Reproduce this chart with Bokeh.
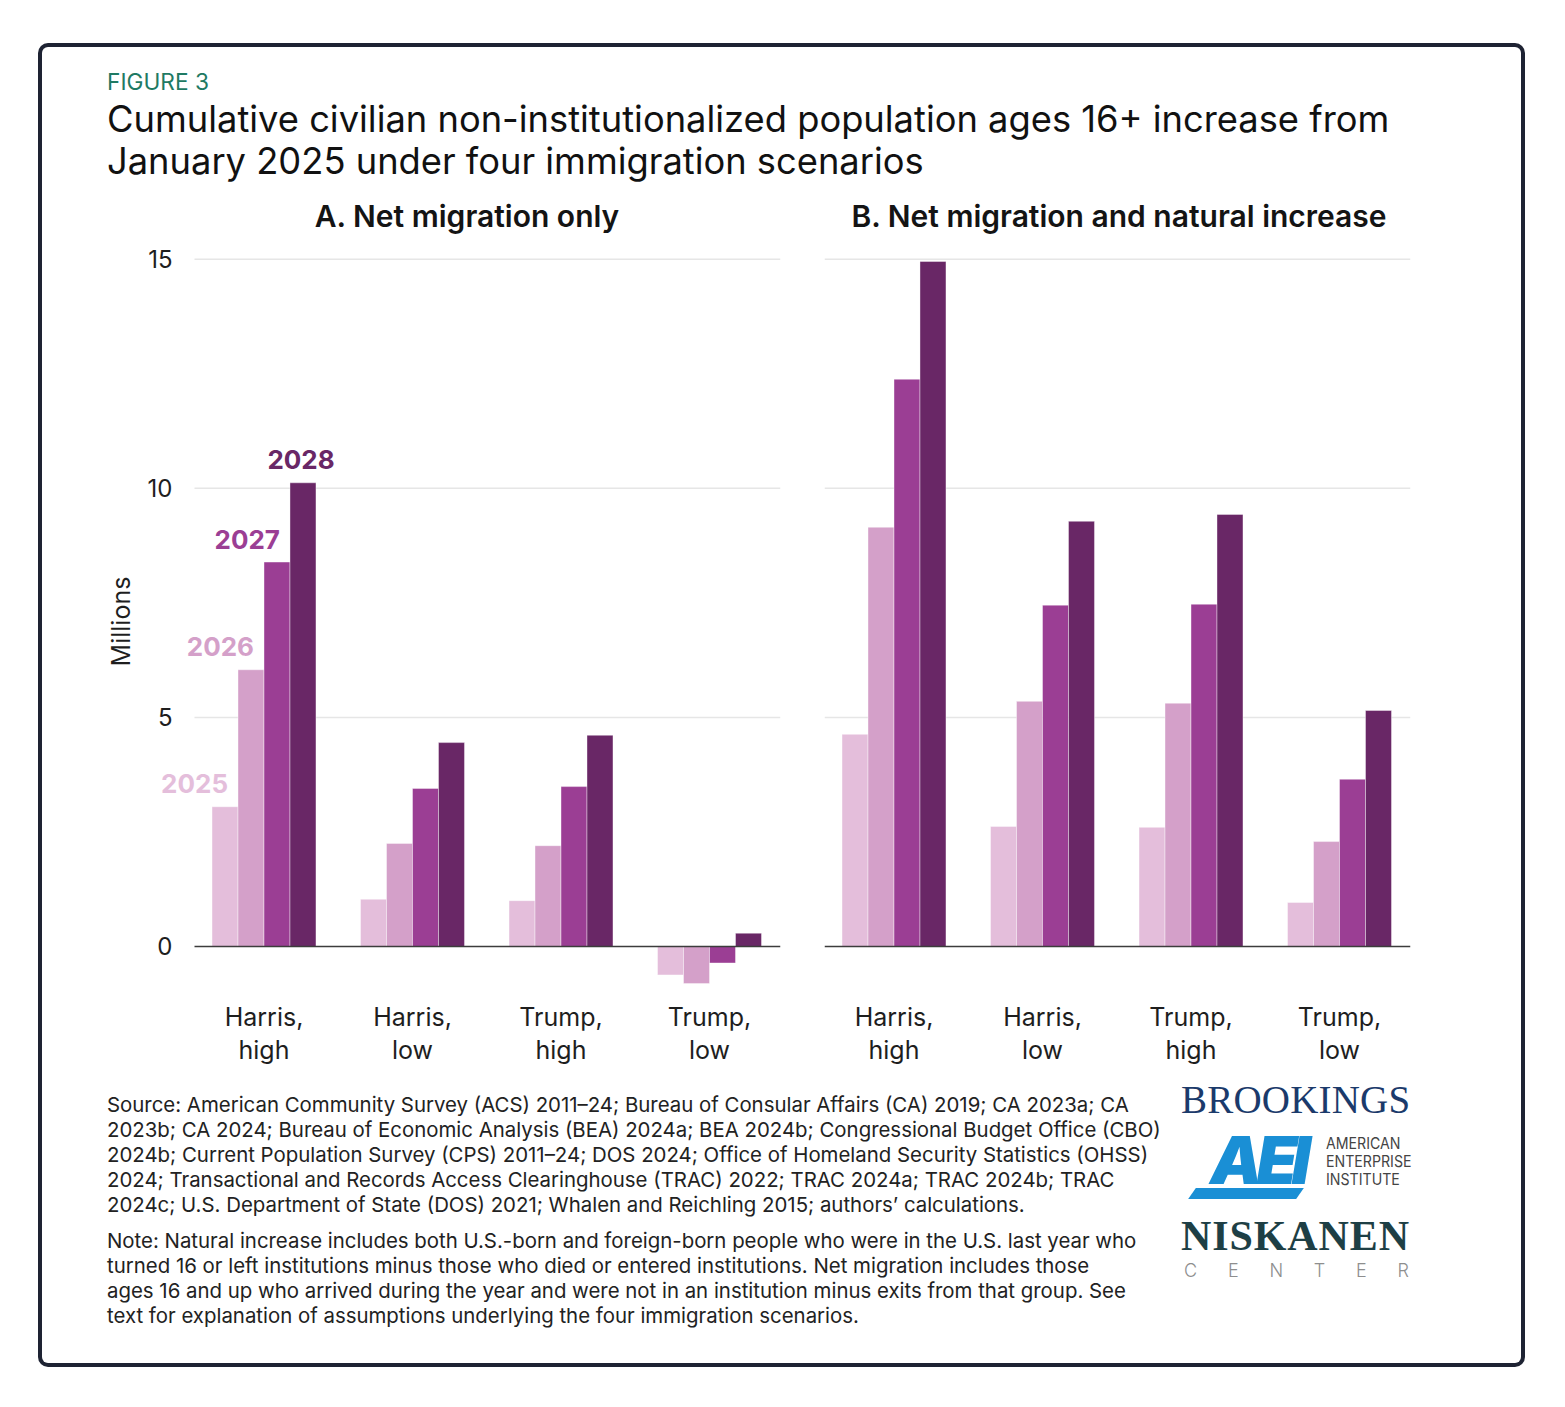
from bokeh.plotting import figure
from bokeh.models import FixedTicker, Div, ColumnDataSource
from bokeh.layouts import column, row
from bokeh.embed import file_html
from bokeh.resources import INLINE
from bokeh.core.properties import value

# ---------------- data ----------------
categories = ["Harris,\nhigh", "Harris,\nlow", "Trump,\nhigh", "Trump,\nlow"]
years = ["2025", "2026", "2027", "2028"]
colors = ["#e4bedb", "#d4a0c9", "#9b3e94", "#692766"]
y_ticks = [0, 5, 10, 15]
grid_values = [5, 10, 15]

a_2025 = [3.05, 1.03, 1.00, -0.62]
a_2026 = [6.04, 2.25, 2.20, -0.81]
a_2027 = [8.39, 3.45, 3.49, -0.36]
a_2028 = [10.12, 4.45, 4.61, 0.29]

b_2025 = [4.63, 2.62, 2.60, 0.96]
b_2026 = [9.15, 5.35, 5.31, 2.29]
b_2027 = [12.38, 7.45, 7.47, 3.65]
b_2028 = [14.95, 9.28, 9.43, 5.15]

panel_a = [a_2025, a_2026, a_2027, a_2028]
panel_b = [b_2025, b_2026, b_2027, b_2028]

FONT = "Inter"
BAR_W = 0.175
OFFSETS = [-1.5 * BAR_W, -0.5 * BAR_W, 0.5 * BAR_W, 1.5 * BAR_W]
X_LO, X_HI = -0.468, 3.478          # visible extent of the category axis (both panels)
Y_LO, Y_HI = -1.004, 15.19
PX_PER_UNIT = 586 / (X_HI - X_LO)
EXTRA_LEFT = 45                      # panel A frame extends left so direct labels are not clipped


def make_panel(series, show_y, year_labels):
    extra = EXTRA_LEFT if show_y else 0
    x_start = X_LO - extra / PX_PER_UNIT
    p = figure(title=None, frame_width=586 + extra, frame_height=742,
               x_range=(x_start, X_HI), y_range=(Y_LO, Y_HI),
               output_backend="svg", toolbar_location=None,
               min_border_left=(152 - extra) if show_y else 22,
               min_border_right=22 if show_y else 111,
               min_border_top=10, min_border_bottom=85,
               outline_line_color=None, background_fill_color="white",
               border_fill_color="white")

    # horizontal gridlines limited to the category extent
    p.segment(x0=[X_LO] * len(grid_values), x1=[X_HI] * len(grid_values),
              y0=grid_values, y1=grid_values, line_color="#e6e6e6", line_width=1.5)

    idx = list(range(len(categories)))
    for k, vals in enumerate(series):
        src = ColumnDataSource(dict(x=[i + OFFSETS[k] for i in idx], top=vals))
        p.vbar(x="x", top="top", bottom=0, width=BAR_W, source=src,
               fill_color=colors[k], line_color="white", line_alpha=0.5, line_width=0.8)

    # zero baseline
    p.segment(x0=[X_LO], x1=[X_HI], y0=[0], y1=[0], line_color="#3c3c3c", line_width=1.6)

    if year_labels:
        for k, vals in enumerate(series):
            last = k == len(series) - 1
            src = ColumnDataSource(dict(x=[0 + OFFSETS[k]], y=[vals[0]], t=[years[k]]))
            p.text(x="x", y="y", text="t", source=src,
                   text_align="center" if last else "right",
                   x_offset=-2 if last else 3, y_offset=-23,
                   text_baseline="alphabetic",
                   text_font=value(FONT), text_font_size="26px",
                   text_font_style="bold", text_color=colors[k])

    p.xaxis.ticker = FixedTicker(ticks=idx)
    p.xaxis.major_label_overrides = {i: c for i, c in enumerate(categories)}
    p.xaxis.axis_line_color = None
    p.xaxis.major_tick_line_color = None
    p.xaxis.minor_tick_line_color = None
    p.xaxis.major_label_text_font = FONT
    p.xaxis.major_label_text_font_size = "25px"
    p.xaxis.major_label_text_color = "#1e1e1e"
    p.xaxis.major_label_standoff = 3
    p.xaxis.major_label_text_line_height = 1.1
    p.xgrid.grid_line_color = None
    p.ygrid.grid_line_color = None

    if show_y:
        p.yaxis.ticker = FixedTicker(ticks=y_ticks)
        p.yaxis.axis_line_color = None
        p.yaxis.major_tick_line_color = None
        p.yaxis.minor_tick_line_color = None
        p.yaxis.major_tick_out = 0
        p.yaxis.major_label_text_font = FONT
        p.yaxis.major_label_text_font_size = "24px"
        p.yaxis.major_label_text_color = "#1e1e1e"
        p.yaxis.major_label_standoff = -23
        p.yaxis.axis_label = "Millions"
        p.yaxis.axis_label_text_font = FONT
        p.yaxis.axis_label_text_font_style = "normal"
        p.yaxis.axis_label_text_font_size = "25px"
        p.yaxis.axis_label_text_color = "#1e1e1e"
        p.yaxis.axis_label_standoff = 9
    else:
        p.yaxis.visible = False
    return p


pA = make_panel(panel_a, True, True)
pB = make_panel(panel_b, False, False)

title_html = """
<div style="position:relative;width:1479px;height:193px;font-family:Inter,sans-serif;">
  <div style="position:absolute;left:65px;top:23px;font-size:22.7px;line-height:24px;color:#1f7a63;">FIGURE 3</div>
  <div style="position:absolute;left:65px;top:51px;font-size:36.3px;line-height:42px;color:#111;white-space:nowrap;">Cumulative civilian non-institutionalized population ages 16+ increase from<br>January 2025 under four immigration scenarios</div>
  <div style="position:absolute;left:425px;top:151px;transform:translateX(-50%);font-size:30px;line-height:36px;font-weight:600;color:#141414;white-space:nowrap;">A. Net migration only</div>
  <div style="position:absolute;left:1077px;top:151px;transform:translateX(-50%);font-size:30px;line-height:36px;font-weight:600;color:#141414;white-space:nowrap;">B. Net migration and natural increase</div>
</div>
"""
header = Div(text=title_html, width=1479, height=193, margin=(0, 0, 0, 0))

source_lines = [
    "Source: American Community Survey (ACS) 2011–24; Bureau of Consular Affairs (CA) 2019; CA 2023a; CA",
    "2023b; CA 2024; Bureau of Economic Analysis (BEA) 2024a; BEA 2024b; Congressional Budget Office (CBO)",
    "2024b; Current Population Survey (CPS) 2011–24; DOS 2024; Office of Homeland Security Statistics (OHSS)",
    "2024; Transactional and Records Access Clearinghouse (TRAC) 2022; TRAC 2024a; TRAC 2024b; TRAC",
    "2024c; U.S. Department of State (DOS) 2021; Whalen and Reichling 2015; authors’ calculations.",
]
note_lines = [
    "Note: Natural increase includes both U.S.-born and foreign-born people who were in the U.S. last year who",
    "turned 16 or left institutions minus those who died or entered institutions. Net migration includes those",
    "ages 16 and up who arrived during the year and were not in an institution minus exits from that group. See",
    "text for explanation of assumptions underlying the four immigration scenarios.",
]

footer_html = f"""
<div style="position:relative;width:1479px;height:286px;font-family:Inter,sans-serif;color:#222;">
  <div style="position:absolute;left:65px;top:15px;font-size:20.4px;line-height:25px;white-space:nowrap;">{'<br>'.join(source_lines)}</div>
  <div style="position:absolute;left:65px;top:151px;font-size:20.4px;line-height:25px;white-space:nowrap;">{'<br>'.join(note_lines)}</div>
  <div style="position:absolute;left:1139px;top:3.3px;font-family:'Liberation Serif',serif;font-size:39px;line-height:39px;letter-spacing:0.2px;color:#1b3a6b;">BROOKINGS</div>
  <div style="position:absolute;left:1150px;top:111px;width:108px;height:11px;background:#1a8fd5;transform:skewX(-35deg);"></div>
  <div style="position:absolute;left:1168px;top:50px;font-family:Inter,sans-serif;font-size:66px;line-height:66px;font-weight:900;font-style:italic;letter-spacing:-6px;color:#1a8fd5;">AEI</div>
  <div style="position:absolute;left:1284px;top:57px;font-family:Inter,sans-serif;font-size:16px;line-height:18px;color:#444;transform:scaleX(0.885);transform-origin:left top;">AMERICAN<br>ENTERPRISE<br>INSTITUTE</div>
  <div style="position:absolute;left:1139px;top:141.5px;font-family:'Liberation Serif',serif;font-size:42px;line-height:34px;font-weight:bold;letter-spacing:0.9px;color:#1e3f45;">NISKANEN</div>
  <div style="position:absolute;left:1142px;top:186px;width:225px;display:flex;justify-content:space-between;font-family:Inter,sans-serif;font-size:18px;line-height:16px;font-weight:300;color:#8e8e8e;">
    <span>C</span><span>E</span><span>N</span><span>T</span><span>E</span><span>R</span></div>
</div>
"""
footer = Div(text=footer_html, width=1479, height=286, margin=(0, 0, 0, 0))

card = column(header, row(pA, pB), footer,
              styles={"box-shadow": "0 0 0 4px #1e2333", "border-radius": "6px",
                      "margin-left": "42px", "margin-top": "47px", "background": "white"})

open("out.html", "w").write(file_html(card, INLINE))
